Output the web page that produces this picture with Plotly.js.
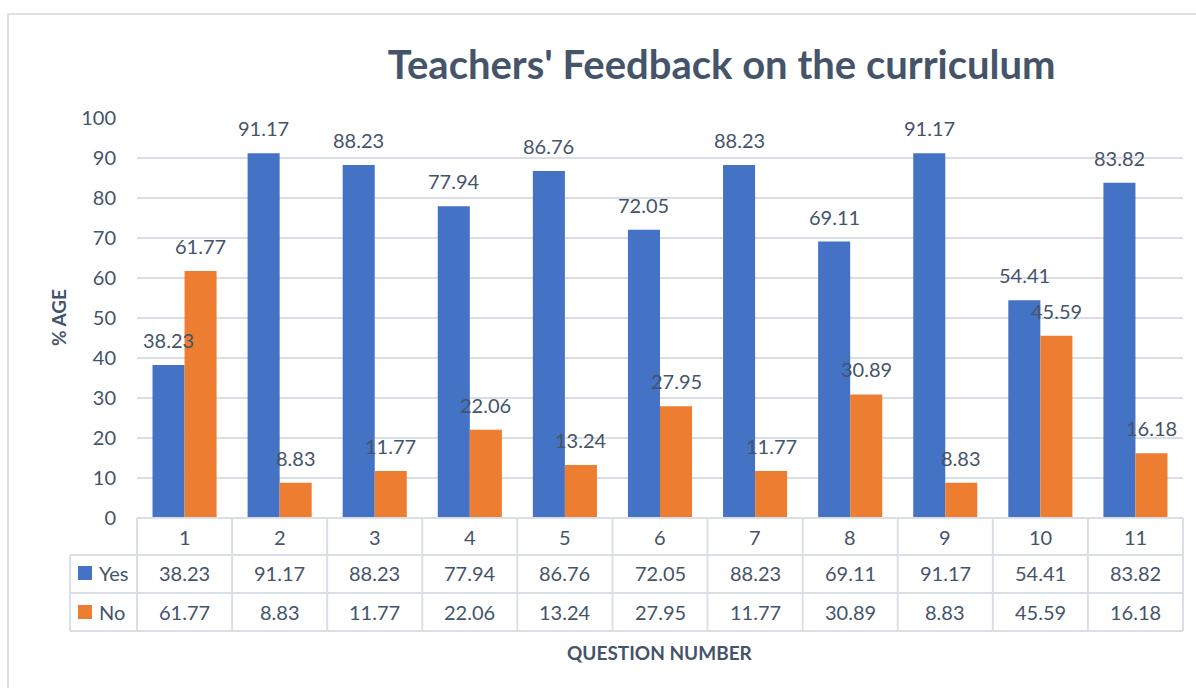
<!DOCTYPE html>
<html>
<head>
<meta charset="utf-8">
<script src="https://cdn.plot.ly/plotly-3.0.1.min.js"></script>
<style>html,body{margin:0;padding:0;background:#fff;}#chart{width:1196px;height:688px;}</style>
</head>
<body>
<div id="chart"></div>
<script>
const categories = ['1','2','3','4','5','6','7','8','9','10','11'];
const yesValues = [38.23, 91.17, 88.23, 77.94, 86.76, 72.05, 88.23, 69.11, 91.17, 54.41, 83.82];
const noValues  = [61.77, 8.83, 11.77, 22.06, 13.24, 27.95, 11.77, 30.89, 8.83, 45.59, 16.18];
const seriesNames = ['Yes', 'No'];
const yTicks = [0, 10, 20, 30, 40, 50, 60, 70, 80, 90, 100];
const chartTitle = "Teachers' Feedback on the curriculum";
const xTitle = 'QUESTION NUMBER';
const yTitle = '% AGE';

const BLUE = '#4472C4', ORANGE = '#ED7D31';
const TXT = '#44546A', BORDER = '#DADFE7';
const FONT = 'Lato, "Open Sans", sans-serif';

const bargap = 0.326;
const half = (1 - bargap) / 4;

const traces = [
  {type: 'bar', name: seriesNames[0], x: categories, y: yesValues, marker: {color: BLUE}, hoverinfo: 'none'},
  {type: 'bar', name: seriesNames[1], x: categories, y: noValues, marker: {color: ORANGE}, hoverinfo: 'none'}
];

const annotations = [];
const shapes = [];
const n = categories.length;

function txt(x, y, text, opts) {
  return Object.assign({x: x, y: y, xref: 'paper', yref: 'paper', text: text, showarrow: false,
    xanchor: 'center', yanchor: 'middle', font: {size: 20, color: TXT, family: FONT}}, opts || {});
}

categories.forEach((c, i) => {
  annotations.push({x: i - half, y: yesValues[i], xref: 'x', yref: 'y', text: yesValues[i].toFixed(2),
    showarrow: false, yshift: 25, xanchor: 'center', yanchor: 'middle', font: {size: 20, color: TXT, family: FONT}});
  annotations.push({x: i + half, y: noValues[i], xref: 'x', yref: 'y', text: noValues[i].toFixed(2),
    showarrow: false, yshift: 25, xanchor: 'center', yanchor: 'middle', font: {size: 20, color: TXT, family: FONT}});
});

const rowLines = [0, -0.0925, -0.1875, -0.2825];
const rowCenters = [-0.0475, -0.1375, -0.235];
const legendLeft = -0.064;

rowLines.forEach((y, k) => {
  shapes.push({type: 'line', xref: 'paper', yref: 'paper', x0: k === 0 ? 0 : legendLeft, x1: 1, y0: y, y1: y,
    line: {color: BORDER, width: 2}});
});
for (let k = 0; k <= n; k++) {
  shapes.push({type: 'line', xref: 'paper', yref: 'paper', x0: k / n, x1: k / n, y0: 0, y1: rowLines[3],
    line: {color: BORDER, width: 2}});
}
shapes.push({type: 'line', xref: 'paper', yref: 'paper', x0: legendLeft, x1: legendLeft, y0: rowLines[1], y1: rowLines[3],
  line: {color: BORDER, width: 2}});

categories.forEach((c, i) => {
  const xc = (i + 0.5) / n;
  annotations.push(txt(xc, rowCenters[0], c));
  annotations.push(txt(xc, rowCenters[1], yesValues[i].toFixed(2)));
  annotations.push(txt(xc, rowCenters[2], noValues[i].toFixed(2)));
});

[[seriesNames[0], BLUE, rowCenters[1]], [seriesNames[1], ORANGE, rowCenters[2]]].forEach(([name, col, yc]) => {
  shapes.push({type: 'rect', xref: 'paper', yref: 'paper', x0: -0.0564, x1: -0.043, y0: yc - 0.0175, y1: yc + 0.0175,
    fillcolor: col, line: {width: 0}});
  annotations.push(txt(-0.0385, yc, name, {xanchor: 'left'}));
});

annotations.push(txt(-0.0755, 0.5, '<b>' + yTitle + '</b>', {textangle: -90, font: {size: 19, color: TXT, family: FONT}}));
annotations.push(txt(0.5, -0.335, '<b>' + xTitle + '</b>', {font: {size: 19, color: TXT, family: FONT}}));

shapes.push({type: 'rect', xref: 'paper', yref: 'paper', x0: -0.1233, x1: 1.02, y0: -0.46, y1: 1.26,
  line: {color: '#DDE1E6', width: 2}, fillcolor: 'rgba(0,0,0,0)', layer: 'below'});

const layout = {
  width: 1196, height: 688,
  margin: {l: 137, r: 13, t: 118, b: 170},
  paper_bgcolor: '#ffffff', plot_bgcolor: '#ffffff',
  font: {family: FONT, color: TXT},
  title: {text: '<b>' + chartTitle + '</b>', x: 0.559, xref: 'paper', y: 1 - 65 / 688, yref: 'container',
    xanchor: 'center', yanchor: 'middle', font: {size: 40, color: TXT, family: FONT}},
  showlegend: false,
  barmode: 'group', bargap: bargap, bargroupgap: 0,
  xaxis: {type: 'category', showticklabels: false, showgrid: false, zeroline: false, showline: false,
    range: [-0.5, n - 0.5], fixedrange: true},
  yaxis: {range: [0, 100], tickvals: yTicks, ticktext: yTicks.map(String), showgrid: true, gridcolor: BORDER, gridwidth: 1.5,
    zeroline: false, showline: false, ticks: '', ticklabelstandoff: 20, tickfont: {size: 20, color: TXT, family: FONT},
    fixedrange: true},
  annotations: annotations,
  shapes: shapes
};

Plotly.newPlot('chart', traces, layout, {displayModeBar: false, staticPlot: true});
</script>
</body>
</html>
